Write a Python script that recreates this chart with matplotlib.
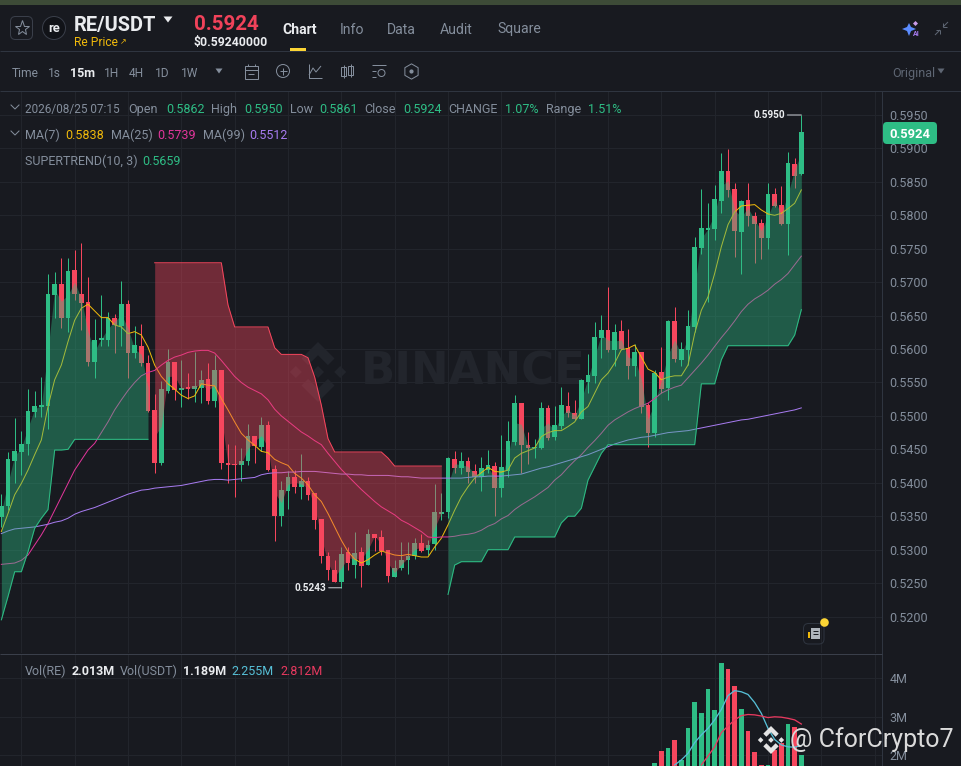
import numpy as np
import matplotlib
matplotlib.use("Agg")
import matplotlib.pyplot as plt
from matplotlib.patches import FancyBboxPatch, Circle, Polygon, Rectangle

plt.rcParams['font.family'] = ['Roboto', 'DejaVu Sans']

BG = "#181A20"
GREEN = "#2EBD85"
RED = "#F6465D"
GRID = "#22252C"
LINE = "#2F3540"
GREY = "#848E9C"
YELLOW = "#F0B90B"

# candles, 15m
opens = [.5349,.5365,.5433,.5446,.5458,.5506,.5514,.5515,.5681,.5697,
         .5646,.5718,.5683,.5670,.5581,.5614,.5614,.5647,.5635,.5668,
         .5594,.5605,.5579,.5509,.5429,.5537,.5580,.5539,.5543,.5540,
         .5542,.5555,.5522,.5569,.5429,.5428,.5426,.5432,.5470,.5454,
         .5487,.5420,.5351,.5387,.5409,.5394,.5403,.5384,.5346,.5291,
         .5270,.5251,.5296,.5277,.5296,.5277,.5324,.5319,.5299,.5259,
         .5272,.5284,.5291,.5310,.5299,.5308,.5354,.5357,.5435,.5422,
         .5433,.5418,.5408,.5419,.5425,.5392,.5417,.5461,.5519,.5457,
         .5452,.5452,.5512,.5469,.5485,.5515,.5505,.5496,.5551,.5560,
         .5616,.5629,.5598,.5627,.5601,.5574,.5596,.5516,.5474,.5565,
         .5541,.5642,.5584,.5599,.5633,.5751,.5778,.5780,.5822,.5866,
         .5839,.5775,.5823,.5799,.5788,.5766,.5832,.5815,.5787,.5877,
         .5862]
closes = [.5365,.5435,.5448,.5458,.5507,.5515,.5517,.5682,.5697,.5646,
          .5716,.5682,.5669,.5581,.5614,.5617,.5647,.5636,.5668,.5594,
          .5606,.5579,.5507,.5430,.5540,.5581,.5539,.5542,.5540,.5544,
          .5554,.5522,.5569,.5429,.5426,.5426,.5432,.5470,.5455,.5487,
          .5419,.5351,.5389,.5408,.5394,.5402,.5381,.5344,.5290,.5269,
          .5251,.5294,.5280,.5295,.5276,.5324,.5317,.5298,.5261,.5272,
          .5284,.5291,.5310,.5298,.5307,.5357,.5357,.5437,.5422,.5432,
          .5416,.5408,.5422,.5426,.5392,.5424,.5463,.5519,.5456,.5452,
          .5454,.5512,.5467,.5487,.5516,.5504,.5496,.5553,.5561,.5618,
          .5628,.5598,.5626,.5600,.5575,.5596,.5514,.5474,.5564,.5540,
          .5642,.5585,.5600,.5635,.5752,.5781,.5781,.5824,.5866,.5838,
          .5776,.5821,.5799,.5787,.5766,.5832,.5814,.5787,.5878,.5859,
          .5924]
highs = [.5383,.5446,.5497,.5477,.5540,.5537,.5558,.5712,.5715,.5736,
         .5736,.5748,.5758,.5708,.5645,.5681,.5655,.5652,.5702,.5674,
         .5635,.5638,.5591,.5533,.5552,.5600,.5580,.5584,.5564,.5595,
         .5569,.5579,.5591,.5569,.5458,.5457,.5452,.5488,.5470,.5498,
         .5493,.5427,.5403,.5417,.5419,.5443,.5408,.5384,.5346,.5297,
         .5284,.5304,.5304,.5326,.5304,.5331,.5324,.5329,.5300,.5284,
         .5311,.5312,.5318,.5324,.5314,.5398,.5384,.5438,.5448,.5446,
         .5438,.5428,.5439,.5449,.5431,.5472,.5492,.5531,.5519,.5476,
         .5466,.5521,.5516,.5515,.5543,.5536,.5524,.5555,.5592,.5641,
         .5651,.5693,.5638,.5643,.5630,.5607,.5596,.5520,.5569,.5603,
         .5643,.5663,.5611,.5658,.5767,.5840,.5819,.5845,.5893,.5899,
         .5848,.5823,.5848,.5805,.5794,.5848,.5841,.5844,.5894,.5885,
         .5950]
lows = [.5334,.5359,.5399,.5412,.5442,.5498,.5499,.5480,.5647,.5631,
        .5625,.5673,.5628,.5574,.5556,.5604,.5605,.5594,.5604,.5557,
        .5586,.5574,.5506,.5415,.5427,.5534,.5524,.5514,.5526,.5521,
        .5519,.5518,.5514,.5420,.5399,.5379,.5402,.5427,.5429,.5447,
        .5417,.5313,.5336,.5361,.5384,.5376,.5375,.5331,.5280,.5255,
        .5251,.5243,.5270,.5257,.5244,.5277,.5298,.5292,.5252,.5259,
        .5270,.5263,.5286,.5296,.5292,.5299,.5344,.5347,.5414,.5413,
        .5399,.5399,.5387,.5414,.5351,.5378,.5408,.5456,.5415,.5428,
        .5437,.5451,.5464,.5464,.5481,.5499,.5494,.5495,.5535,.5549,
        .5586,.5596,.5575,.5598,.5555,.5559,.5504,.5454,.5469,.5535,
        .5524,.5581,.5574,.5576,.5626,.5742,.5671,.5763,.5803,.5828,
        .5738,.5712,.5784,.5729,.5735,.5750,.5813,.5786,.5741,.5841,
        .5861]

ma7 = [.5327,.5354,.5382,.5399,.5419,.5442,.5464,.5514,.5554,.5576,
       .5611,.5643,.5661,.5667,.5657,.5647,.5647,.5636,.5633,.5623,
       .5626,.5621,.5603,.5576,.5559,.5548,.5540,.5531,.5526,.5530,
       .5548,.5546,.5545,.5526,.5509,.5491,.5474,.5464,.5456,.5447,
       .5445,.5435,.5430,.5426,.5414,.5407,.5397,.5382,.5372,.5354,
       .5334,.5314,.5297,.5286,.5280,.5285,.5292,.5298,.5295,.5292,
       .5291,.5293,.5291,.5289,.5289,.5304,.5317,.5337,.5359,.5379,
       .5394,.5407,.5415,.5423,.5417,.5416,.5419,.5437,.5444,.5448,
       .5452,.5469,.5475,.5478,.5478,.5484,.5491,.5506,.5514,.5534,
       .5554,.5564,.5579,.5599,.5601,.5606,.5588,.5570,.5565,.5554,
       .5558,.5560,.5560,.5576,.5623,.5658,.5678,.5713,.5753,.5786,
       .5805,.5814,.5815,.5816,.5808,.5802,.5800,.5803,.5810,.5818,
       .5838]
ma25 = [.5278,.5279,.5280,.5284,.5292,.5307,.5322,.5339,.5359,.5379,
        .5399,.5419,.5434,.5449,.5459,.5475,.5491,.5509,.5524,.5538,
        .5550,.5560,.5565,.5568,.5576,.5583,.5588,.5591,.5595,.5597,
        .5598,.5598,.5594,.5583,.5571,.5559,.5550,.5543,.5538,.5533,
        .5524,.5510,.5500,.5492,.5484,.5476,.5470,.5463,.5457,.5444,
        .5432,.5420,.5410,.5400,.5390,.5381,.5372,.5364,.5358,.5352,
        .5344,.5339,.5333,.5327,.5319,.5318,.5319,.5319,.5320,.5322,
        .5323,.5325,.5329,.5335,.5339,.5346,.5351,.5360,.5367,.5373,
        .5379,.5386,.5393,.5404,.5412,.5423,.5433,.5442,.5453,.5463,
        .5474,.5486,.5494,.5500,.5506,.5511,.5515,.5519,.5526,.5534,
        .5539,.5543,.5546,.5557,.5568,.5579,.5591,.5604,.5617,.5629,
        .5642,.5656,.5667,.5675,.5681,.5688,.5697,.5704,.5713,.5726,
        .5739]
ma99 = [.5324,.5328,.5331,.5332,.5333,.5334,.5336,.5338,.5341,.5343,
        .5347,.5353,.5357,.5360,.5363,.5367,.5371,.5375,.5379,.5383,
        .5386,.5389,.5390,.5392,.5393,.5394,.5395,.5396,.5398,.5400,
        .5402,.5404,.5405,.5405,.5404,.5405,.5406,.5407,.5408,.5412,
        .5414,.5415,.5415,.5416,.5416,.5417,.5417,.5417,.5416,.5415,
        .5414,.5413,.5413,.5412,.5412,.5411,.5411,.5411,.5411,.5410,
        .5409,.5409,.5408,.5407,.5407,.5407,.5407,.5407,.5407,.5407,
        .5408,.5409,.5409,.5410,.5410,.5410,.5411,.5412,.5413,.5416,
        .5419,.5422,.5424,.5427,.5430,.5433,.5436,.5439,.5442,.5446,
        .5450,.5454,.5458,.5461,.5464,.5466,.5468,.5469,.5471,.5473,
        .5475,.5476,.5477,.5478,.5480,.5482,.5484,.5486,.5488,.5490,
        .5492,.5494,.5495,.5497,.5499,.5501,.5503,.5505,.5507,.5509,
        .5512]

# supertrend, three runs: up, down, up
st_up_a = [.5195,.5230,.5267,.5267,.5297,.5332,.5347,.5360,.5449,.5449,
           .5450,.5465,.5465,.5465,.5465,.5465,.5465,.5465,.5465,.5465,
           .5465,.5465,.5465]
st_down = [.5729,.5729,.5729,.5729,.5729,.5729,.5729,.5729,.5729,.5729,
           .5729,.5666,.5633,.5633,.5633,.5633,.5633,.5633,.5602,.5592,
           .5592,.5592,.5592,.5587,.5558,.5516,.5466,.5446,.5446,.5446,
           .5446,.5446,.5446,.5446,.5446,.5437,.5425,.5425,.5425,.5425,
           .5425,.5425,.5425,.5425]
st_up_b = [.5233,.5277,.5282,.5282,.5282,.5282,.5300,.5300,.5300,.5300,
           .5319,.5319,.5319,.5319,.5319,.5319,.5319,.5340,.5350,.5350,
           .5362,.5404,.5424,.5444,.5457,.5457,.5457,.5457,.5457,.5457,
           .5457,.5457,.5457,.5457,.5457,.5457,.5457,.5457,.5548,.5548,
           .5548,.5584,.5605,.5605,.5605,.5605,.5605,.5605,.5605,.5605,
           .5605,.5605,.5621,.5659]

# volume pane, only the last bars reach into the crop (first index 98)
vol_first = 98
vol_re = [1.79,2.11,2.20,2.41,1.88,2.71,3.39,3.09,3.72,3.18,4.41,4.25,
          3.79,3.19,2.63,2.08,1.75,1.75,2.14,2.31,2.81,2.73,2.013]
vol_ma_fast = [1.75,1.88,2.05,2.33,2.53,2.70,2.92,3.19,3.55,3.68,3.65,
               3.58,3.37,3.09,2.70,2.41,2.27,2.22,2.21,2.255]
vol_ma_slow = [1.75,1.98,2.22,2.59,2.76,2.92,3.03,3.06,3.05,3.02,2.98,
               3.00,2.99,2.96,2.92,2.812]

price_ticks = [.5950,.5900,.5850,.5800,.5750,.5700,.5650,.5600,.5550,.5500,
               .5450,.5400,.5350,.5300,.5250,.5200]
vol_ticks = [2, 3, 4]
vol_tick_labels = ["2M", "3M", "4M"]

W, H = 961, 766
fig = plt.figure(figsize=(W / 100, H / 100), dpi=100, facecolor=BG)
ONE = 0.72  # one pixel of line width


def px_axes(left, top, right, bottom, **kw):
    return fig.add_axes([left / W, 1 - bottom / H, (right - left) / W, (bottom - top) / H], **kw)


def px(size):
    return size * 0.72


def binance_logo(ax, cx, cy, s, color, z=1):
    chev = [(0, -1), (.55, -.45), (.33, -.23), (0, -.56), (-.33, -.23), (-.55, -.45)]
    ax.add_patch(Polygon([(cx + a * s, cy + b * s) for a, b in chev], fc=color, ec="none", zorder=z))
    ax.add_patch(Polygon([(cx + a * s, cy - b * s) for a, b in chev], fc=color, ec="none", zorder=z))
    for dx in (-.74, 0, .74):
        r = .2 * s
        c = cx + dx * s
        ax.add_patch(Polygon([(c, cy - r), (c + r, cy), (c, cy + r), (c - r, cy)], fc=color, ec="none", zorder=z))


# back layer: page colour and the faint watermark
back = px_axes(0, 0, W, H, zorder=0)
back.set_xlim(0, W)
back.set_ylim(H, 0)
back.axis("off")
binance_logo(back, 318, 372, 30, "#22252C")
back.text(361, 372, "BINANCE", color="#22252C", fontsize=px(45), fontweight="bold",
          family="DejaVu Sans", va="center", ha="left")

# price pane
ax = px_axes(0, 92, 882, 653, zorder=1)
ax.patch.set_alpha(0)
xs = np.arange(len(opens))
o, h, l, c = map(np.array, (opens, highs, lows, closes))
mid = (o + c) / 2
colors = [GREEN if c[i] >= o[i] else RED for i in xs]
ax.set_xlim(-0.2, 132.1)
ax.set_ylim(.59500 - (653 - 115) / 6687, .59500 - (92 - 115) / 6687)
ax.vlines(xs, l, h, colors=colors, lw=ONE, zorder=3)
ax.bar(xs, np.abs(c - o), bottom=np.minimum(o, c), width=0.68, color=colors, lw=0, zorder=3)
ax.plot(xs, ma7, color=YELLOW, lw=ONE, zorder=4)
ax.plot(xs, ma25, color="#E0359A", lw=ONE, zorder=4)
ax.plot(xs, ma99, color="#A77BF0", lw=ONE, zorder=4)

n_a, n_d = len(st_up_a), len(st_down)
xa = xs[:n_a]
xd = xs[n_a:n_a + n_d]
xb = xs[n_a + n_d:]
ax.fill_between(xa, st_up_a, mid[xa], color=GREEN, alpha=.4, lw=0, zorder=5)
ax.fill_between(xd, st_down, mid[xd], color=RED, alpha=.4, lw=0, zorder=5)
ax.fill_between(xb, st_up_b, mid[xb], color=GREEN, alpha=.4, lw=0, zorder=5)
ax.plot(xa, st_up_a, color=GREEN, lw=ONE, zorder=6)
ax.plot(xd, st_down, color=RED, lw=ONE, zorder=6)
ax.plot(xb, st_up_b, color=GREEN, lw=ONE, zorder=6)

ax.set_xticks(np.arange(3, 133, 8))
ax.set_yticks(price_ticks)
ax.set_yticklabels(["%.4f" % t for t in price_ticks])
ax.yaxis.tick_right()
ax.tick_params(axis="y", length=0, pad=5.5, labelcolor=GREY, labelsize=px(12.5))
ax.tick_params(axis="x", length=0, labelbottom=False)
ax.grid(True, color=GRID, lw=ONE, zorder=0)
ax.set_axisbelow(True)
for name, sp in ax.spines.items():
    sp.set_visible(name == "right")
    sp.set_color(LINE)
    sp.set_linewidth(ONE)

# extremes
ax.annotate("", xy=(120, .5950), xytext=(117.9, .5950),
            arrowprops=dict(arrowstyle="-", color="#C8CCD2", lw=ONE, shrinkA=0, shrinkB=0), zorder=7)
ax.text(117.6, .5950, "0.5950", color="#EAECEF", fontsize=px(10), fontweight="bold", ha="right", va="center", zorder=7)
ax.annotate("", xy=(51, .5243), xytext=(49.1, .5243),
            arrowprops=dict(arrowstyle="-", color="#C8CCD2", lw=ONE, shrinkA=0, shrinkB=0), zorder=7)
ax.text(48.8, .5243, "0.5243", color="#EAECEF", fontsize=px(10), fontweight="bold", ha="right", va="center", zorder=7)

# volume pane
vax = px_axes(0, 654, 882, 766, zorder=1)
vax.patch.set_alpha(0)
vx = np.arange(vol_first, vol_first + len(vol_re))
vax.set_xlim(-0.2, 132.1)
vax.set_ylim(4 - (766 - 678.3) / 38.5, 4 - (654 - 678.3) / 38.5)
vax.bar(vx, vol_re, width=0.68, color=[colors[i] for i in vx], lw=0, zorder=3)
vax.plot(np.arange(121 - len(vol_ma_fast), 121), vol_ma_fast, color="#56BFD6", lw=ONE * 1.3, zorder=4)
vax.plot(np.arange(121 - len(vol_ma_slow), 121), vol_ma_slow, color="#E8395F", lw=ONE * 1.3, zorder=4)
vax.set_xticks(np.arange(3, 133, 8))
vax.set_yticks(vol_ticks)
vax.set_yticklabels(vol_tick_labels)
vax.yaxis.tick_right()
vax.tick_params(axis="y", length=0, pad=5.5, labelcolor=GREY, labelsize=px(12.5))
vax.tick_params(axis="x", length=0, labelbottom=False)
vax.grid(True, color=GRID, lw=ONE)
vax.set_axisbelow(True)
for name, sp in vax.spines.items():
    sp.set_visible(name == "right")
    sp.set_color(LINE)
    sp.set_linewidth(ONE)

# everything round the chart, in pixels
top = px_axes(0, 0, W, H, zorder=5)
top.set_xlim(0, W)
top.set_ylim(H, 0)
top.axis("off")


def label(x, y, s, color=GREY, size=12, weight="normal", ha="left"):
    top.text(x, y, s, color=color, fontsize=px(size), fontweight=weight, ha=ha, va="center_baseline")


def tri(cx, cy, w, hh, color):
    top.add_patch(Polygon([(cx - w / 2, cy - hh / 2), (cx + w / 2, cy - hh / 2), (cx, cy + hh / 2)], fc=color, ec="none"))


def seg(xs_, ys_, color=GREY, lw=ONE):
    top.plot(xs_, ys_, color=color, lw=lw, solid_capstyle="butt")


top.add_patch(Rectangle((0, 0), W, 4.5, fc="#3D4B37", ec="none"))
seg([0, W], [50.5, 50.5], "#2F3540")
seg([0, W], [90.5, 90.5], "#2F3540")
seg([0, 882], [653.5, 653.5], "#3A3F4A")

# header
top.add_patch(FancyBboxPatch((10.5, 16.5), 22, 23, boxstyle="round,pad=0,rounding_size=5", fc="none", ec="#3A3F4A", lw=ONE))
top.plot([22], [28], marker="*", ms=11, mfc="none", mec=GREY, mew=ONE)
top.add_patch(Circle((54, 28), 11.5, fc="#111318", ec="#3A3F4A", lw=ONE))
label(54, 27.5, "re", "#EAECEF", 13, "bold", "center")
label(74, 23, "RE/USDT", "#EAECEF", 20, "bold")
tri(168, 19.5, 9, 6, "#EAECEF")
label(194, 23, "0.5924", "#F0425A", 20.5, "bold")
label(194, 41, "$0.59240000", "#EAECEF", 12.3, "bold")
label(74, 41, "Re Price", YELLOW, 12)
label(120, 42, "↗", YELLOW, 8)
label(282, 28, "Chart", "#EAECEF", 14, "bold")
label(340, 28, "Info", GREY, 14)
label(387, 28, "Data", GREY, 14)
label(440, 28, "Audit", GREY, 14)
label(497, 28, "Square", GREY, 14)
top.add_patch(Rectangle((290, 47.5), 16, 3, fc="#FCD535", ec="none"))

# toolbar
label(11.5, 72, "Time", GREY, 12)
label(48, 72, "1s", GREY, 12)
label(70, 72, "15m", "#EAECEF", 12.5, "bold")
label(104, 72, "1H", GREY, 12)
label(129, 72, "4H", GREY, 12)
label(155, 72, "1D", GREY, 12)
label(181, 72, "1W", GREY, 12)
tri(219, 71, 7, 5, GREY)
# calendar
top.add_patch(Rectangle((245, 66), 12.5, 12.5, fc="none", ec=GREY, lw=ONE))
seg([245, 257.5], [69.5, 69.5])
seg([248, 248], [64, 66])
seg([254.5, 254.5], [64, 66])
seg([248, 254], [74, 74])
# plus
top.add_patch(Circle((283, 71), 6.5, fc="none", ec=GREY, lw=ONE))
seg([279.5, 286.5], [71, 71])
seg([283, 283], [67.5, 74.5])
# line tool
seg([309, 309, 322], [64, 78, 78])
seg([309, 313, 316, 321], [75, 68, 72, 66])
# candles
for cx_, y0, y1 in ((343.5, 67, 76), (350.5, 66, 75)):
    top.add_patch(Rectangle((cx_ - 2.5, y0), 5, y1 - y0, fc="none", ec=GREY, lw=ONE))
    seg([cx_, cx_], [y0 - 2, y1 + 2])
# templates
seg([372, 386], [65, 65])
seg([372, 376], [71, 71])
seg([372, 376], [77, 77])
top.add_patch(Circle((381.5, 73), 3.5, fc="none", ec=GREY, lw=ONE))
# hexagon
top.plot([411], [71], marker="h", ms=11, mfc="none", mec=GREY, mew=ONE)
top.plot([411], [71], marker="o", ms=2, mfc=GREY, mec=GREY)
label(892, 72, "Original", "#5E6673", 12.5)
tri(941, 71, 7, 5, "#5E6673")

# top right icons
top.add_patch(Polygon([(902, 29), (907, 27), (909, 23), (911, 27), (916, 29), (911, 31), (909, 36), (907, 31)], fc="#5B8CFF", ec="none"))
top.add_patch(Polygon([(913, 23.5), (915.5, 21), (918, 23.5), (915.5, 26)], fc="#C99BE8", ec="none"))
top.text(913, 33.5, "AI", color="#A77BF0", fontsize=px(7), fontweight="bold", va="center")
seg([935, 940], [35, 30], "#5E6673")
seg([936, 940], [30, 30], "#5E6673")
seg([940, 940], [30, 34], "#5E6673")
seg([948, 943], [22, 27], "#5E6673")
seg([943, 943], [23, 27], "#5E6673")
seg([943, 947], [27, 27], "#5E6673")

# legend rows
top.plot([11, 15, 19], [105, 109, 105], color=GREY, lw=ONE)
top.plot([11, 15, 19], [131, 135, 131], color=GREY, lw=ONE)
label(25, 108, "2026/08/25 07:15", GREY, 11.8)
row = [(128.5, "Open", GREY), (166, "0.5862", GREEN),
       (211, "High", GREY), (244, "0.5950", GREEN), (290, "Low", GREY), (319, "0.5861", GREEN),
       (364.5, "Close", GREY), (403, "0.5924", GREEN), (448.5, "CHANGE", GREY),
       (505, "1.07%", GREEN), (546, "Range", GREY), (588, "1.51%", GREEN)]
for x_, s_, col_ in row:
    label(x_, 108, s_, col_, 12.5)
row = [(25, "MA(7)", GREY), (65, "0.5838", YELLOW), (111, "MA(25)", GREY), (157.5, "0.5739", "#E0359A"),
       (203, "MA(99)", GREY), (249, "0.5512", "#A77BF0")]
for x_, s_, col_ in row:
    label(x_, 134, s_, col_, 12.5)
label(25, 160, "SUPERTREND(10, 3)", GREY, 12.5)
label(142, 160, "0.5659", GREEN, 12.5)
row = [(25, "Vol(RE)", GREY, "normal"), (72, "2.013M", "#EAECEF", "bold"), (120, "Vol(USDT)", GREY, "normal"),
       (183, "1.189M", "#EAECEF", "bold"), (231, "2.255M", "#56BFD6", "normal"), (280, "2.812M", "#E8395F", "normal")]
for x_, s_, col_, w_ in row:
    label(x_, 670, s_, col_, 12.5, w_)

# last price tag
top.add_patch(FancyBboxPatch((883, 122), 54, 22, boxstyle="round,pad=0,rounding_size=4", fc=GREEN, ec="none"))
label(910, 133, "0.5924", "#FFFFFF", 13, "bold", "center")

# news icon near the bottom
top.add_patch(FancyBboxPatch((803.5, 623.5), 20.5, 20.5, boxstyle="round,pad=0,rounding_size=5", fc="none", ec="#2F3540", lw=ONE))
top.add_patch(Rectangle((811, 628), 9, 11, fc="#AEB4BC", ec="none"))
seg([813, 818], [631, 631], "#181A20")
seg([813, 818], [634, 634], "#181A20")
top.add_patch(Rectangle((808, 632), 2, 6, fc=YELLOW, ec="none"))
top.add_patch(Circle((824.5, 622.5), 4.3, fc="#FCD535", ec="none"))

# square post overlay
binance_logo(top, 771, 740, 14, "#E4E4E4", z=8)
top.text(790, 740, "@ CforCrypto7", color="#DADADA", fontsize=px(25), va="center", ha="left", zorder=8)

fig.savefig("out.png", dpi=100, facecolor=BG)
